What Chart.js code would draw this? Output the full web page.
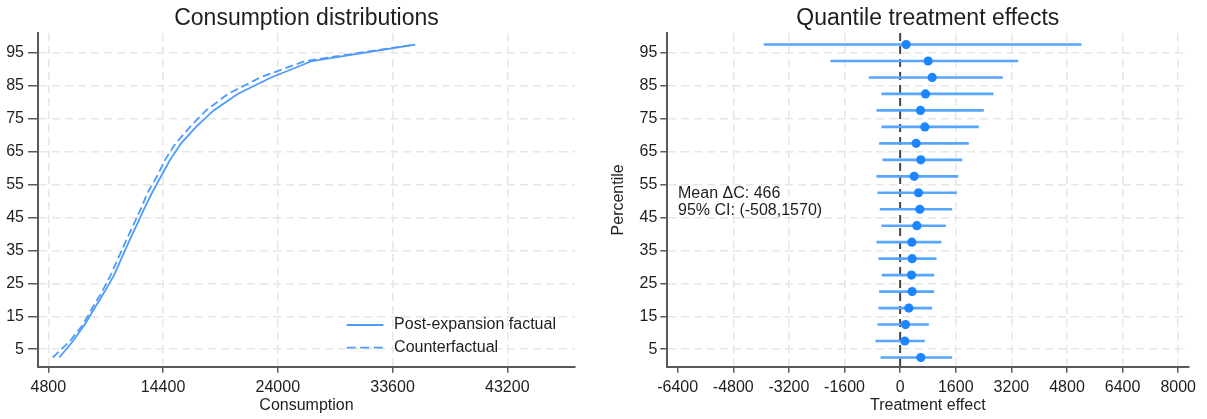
<!DOCTYPE html>
<html>
<head>
<meta charset="utf-8">
<script src="https://cdn.jsdelivr.net/npm/chart.js@4.4.1/dist/chart.umd.min.js"></script>
<style>
  html, body { margin: 0; padding: 0; background: #fff; overflow: hidden; width: 1207px; height: 419px; }
  canvas { position: absolute; top: 0; }
  #dist { left: 0; }
  #qte { left: 600px; }
</style>
</head>
<body>
<canvas id="dist" width="600" height="419"></canvas>
<canvas id="qte" width="607" height="419"></canvas>
<script>
// Percentile grid shared by both panels
const percentiles = [2.5, 7.5, 12.5, 17.5, 22.5, 27.5, 32.5, 37.5, 42.5, 47.5,
                     52.5, 57.5, 62.5, 67.5, 72.5, 77.5, 82.5, 87.5, 92.5, 97.5];

// Consumption at each percentile
const factual = [5720, 6870, 7850, 8680, 9520, 10300, 10910, 11530, 12170, 12810,
                 13480, 14230, 14990, 15910, 17160, 18630, 20640, 23440, 26870, 35490];
const counterfactual = [5170, 6620, 7700, 8480, 9300, 10020, 10630, 11250, 11890, 12530,
                        13100, 13900, 14570, 15450, 16660, 18000, 19840, 22520, 26290, 35490];

// Quantile treatment effects with 95% confidence bounds
const qteEstimate = [595, 134, 154, 249, 345, 326, 345, 336, 480, 566,
                     528, 403, 595, 460, 710, 585, 729, 921, 806, 173];
const qteLower = [-556, -700, -643, -614, -595, -518, -614, -671, -528, -576,
                  -643, -671, -499, -595, -528, -671, -528, -892, -1995, -3914];
const qteUpper = [1487, 700, 816, 911, 969, 969, 1036, 1180, 1305, 1487,
                  1621, 1660, 1775, 1966, 2254, 2398, 2677, 2945, 3387, 5209];

const meanEffect = 466;
const meanCI = [-508, 1570];

// Tick labels
const percentileTicks = [5, 15, 25, 35, 45, 55, 65, 75, 85, 95];
const consumptionTicks = [4800, 14400, 24000, 33600, 43200];
const effectTicks = [-6400, -4800, -3200, -1600, 0, 1600, 3200, 4800, 6400, 8000];

// Styling
const FONT = "'Liberation Sans', Arial, sans-serif";
const TEXT = '#1e1e1e';
const GRID = '#e6e6e6';
const AXIS = '#5a5a5a';
const CURVE = 'rgb(78,155,252)';
const CI_COLOR = 'rgb(88,165,255)';
const DOT = 'rgb(28,132,255)';

Chart.defaults.font.family = FONT;
Chart.defaults.font.size = 16;
Chart.defaults.color = TEXT;

function titleOpts(text) {
  return {
    display: true, text, fullSize: false, color: TEXT,
    font: { family: FONT, size: 23, weight: 'normal', lineHeight: 1.2 },
    padding: { top: 5, bottom: 0.4 }
  };
}

function linearAxis(opts) {
  return {
    type: 'linear',
    min: opts.min, max: opts.max,
    offset: false,
    afterFit: opts.afterFit,
    afterBuildTicks: s => { s.ticks = opts.ticks.map(v => ({ value: v })); },
    ticks: { callback: v => String(v), padding: opts.labelPad, autoSkip: false, maxRotation: 0, color: TEXT,
             font: { family: FONT, size: 16 } },
    grid: { offset: false, color: opts.gridColor || GRID, lineWidth: 1.5, tickLength: opts.tickLength,
            tickColor: AXIS, tickWidth: 1.5 },
    border: { color: AXIS, width: 2, dash: [8, 5] },
    title: opts.title ? { display: true, text: opts.title, color: TEXT, padding: opts.titlePad,
                          font: { family: FONT, size: 16, lineHeight: 1.2 } } : { display: false }
  };
}

// Legend drawn inside the lower-right corner of the plot area
const insideLegend = {
  id: 'insideLegend',
  afterDraw(chart) {
    const { ctx, chartArea } = chart;
    const x0 = chartArea.right - 228.3;
    const x1 = x0 + 36.7;
    const rows = [chartArea.bottom - 41.7, chartArea.bottom - 19];
    chart.data.datasets.forEach((ds, i) => {
      ctx.save();
      ctx.strokeStyle = ds.borderColor;
      ctx.lineWidth = ds.borderWidth;
      ctx.setLineDash(ds.borderDash ? [9, 4.5] : []);
      ctx.beginPath();
      ctx.moveTo(x0, rows[i]);
      ctx.lineTo(x1, rows[i]);
      ctx.stroke();
      ctx.setLineDash([]);
      ctx.fillStyle = TEXT;
      ctx.font = '16px ' + FONT;
      ctx.textAlign = 'left';
      ctx.textBaseline = 'middle';
      ctx.fillText(ds.label, x1 + 10.7, rows[i]);
      ctx.restore();
    });
  }
};

new Chart(document.getElementById('dist'), {
  type: 'scatter',
  data: {
    datasets: [
      {
        label: 'Post-expansion factual',
        data: percentiles.map((p, i) => ({ x: factual[i], y: p })),
        showLine: true, borderColor: CURVE, borderWidth: 1.8, pointRadius: 0, tension: 0
      },
      {
        label: 'Counterfactual',
        data: percentiles.map((p, i) => ({ x: counterfactual[i], y: p })),
        showLine: true, borderColor: CURVE, borderWidth: 1.8, borderDash: [8, 4], pointRadius: 0, tension: 0
      }
    ]
  },
  options: {
    responsive: false, animation: false, devicePixelRatio: 1,
    layout: { padding: { left: 0, right: 25, top: 0, bottom: 0 } },
    plugins: {
      legend: { display: false },
      tooltip: { enabled: false },
      title: titleOpts('Consumption distributions')
    },
    scales: {
      x: linearAxis({
        min: 3938, max: 48864, ticks: consumptionTicks, labelPad: 5, tickLength: 6,
        afterFit: s => { s.height = 52.3; },
        title: 'Consumption', titlePad: { top: 0, bottom: 3.6 }
      }),
      y: linearAxis({
        min: -0.3, max: 101, ticks: percentileTicks, labelPad: 4, tickLength: 10,
        afterFit: s => { s.width = 38; }
      })
    }
  },
  plugins: [insideLegend]
});

// Dashed reference line at zero effect and the mean-effect note
const zeroLine = {
  id: 'zeroLine',
  beforeDatasetsDraw(chart) {
    const { ctx, chartArea, scales: { x } } = chart;
    const px = x.getPixelForValue(0);
    ctx.save();
    ctx.strokeStyle = '#444';
    ctx.lineWidth = 2;
    ctx.setLineDash([8, 5]);
    ctx.beginPath();
    ctx.moveTo(px, chartArea.top);
    ctx.lineTo(px, chartArea.bottom);
    ctx.stroke();
    ctx.restore();
  }
};

const meanNote = {
  id: 'meanNote',
  afterDatasetsDraw(chart) {
    const { ctx, scales: { x, y } } = chart;
    const nx = x.getPixelForValue(-6390);
    ctx.save();
    ctx.fillStyle = TEXT;
    ctx.font = '16px ' + FONT;
    ctx.textAlign = 'left';
    ctx.textBaseline = 'middle';
    ctx.fillText('Mean \u0394C: ' + meanEffect, nx, y.getPixelForValue(52.2));
    ctx.fillText('95% CI: (' + meanCI[0] + ',' + meanCI[1] + ')', nx, y.getPixelForValue(47.1));
    ctx.restore();
  }
};

new Chart(document.getElementById('qte'), {
  type: 'scatter',
  data: {
    datasets: [
      {
        type: 'bar',
        indexAxis: 'y',
        label: '95% CI',
        data: percentiles.map((p, i) => ({ x: [qteLower[i], qteUpper[i]], y: p })),
        backgroundColor: CI_COLOR,
        borderWidth: 0,
        barThickness: 2,
        order: 1
      },
      {
        type: 'scatter',
        label: 'Effect',
        data: percentiles.map((p, i) => ({ x: qteEstimate[i], y: p })),
        backgroundColor: DOT,
        borderWidth: 0,
        pointRadius: 4.6,
        order: 0
      }
    ]
  },
  options: {
    responsive: false, animation: false, devicePixelRatio: 1,
    layout: { padding: { left: 0, right: 18.7, top: 0, bottom: 0 } },
    plugins: {
      legend: { display: false },
      tooltip: { enabled: false },
      title: titleOpts('Quantile treatment effects')
    },
    scales: {
      x: linearAxis({
        min: -6699, max: 8290, ticks: effectTicks, labelPad: 5, tickLength: 6,
        gridColor: c => (c.index === 0 ? 'rgba(0,0,0,0)' : GRID),
        afterFit: s => { s.height = 52.3; },
        title: 'Treatment effect', titlePad: { top: 0, bottom: 3.6 }
      }),
      y: linearAxis({
        min: -0.3, max: 101, ticks: percentileTicks, labelPad: 3, tickLength: 7,
        afterFit: s => { s.width = 67.3; },
        title: 'Percentile', titlePad: { top: 8.7, bottom: 0 }
      })
    }
  },
  plugins: [zeroLine, meanNote]
});
</script>
</body>
</html>
